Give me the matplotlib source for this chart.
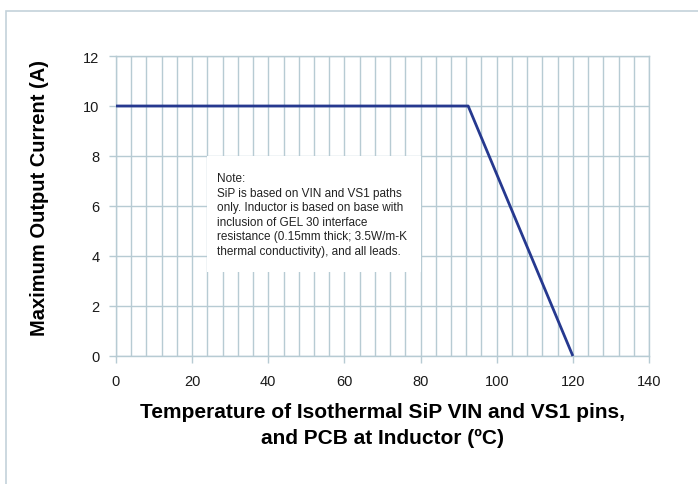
"""Derating curve: maximum output current vs. isothermal temperature."""

import matplotlib

matplotlib.use("Agg")
import matplotlib.pyplot as plt
from matplotlib.patches import Rectangle
from matplotlib.ticker import MultipleLocator

plt.rcParams["font.family"] = ["Liberation Sans", "DejaVu Sans"]

# derating curve
temperature_c = [0, 92.5, 120]
max_current_a = [10, 10, 0]

x_ticks = [0, 20, 40, 60, 80, 100, 120, 140]
y_ticks = [0, 2, 4, 6, 8, 10, 12]

note_text = (
    "Note:\n"
    "SiP is based on VIN and VS1 paths\n"
    "only. Inductor is based on base with\n"
    "inclusion of GEL 30 interface\n"
    "resistance (0.15mm thick; 3.5W/m-K\n"
    "thermal conductivity), and all leads."
)

GRID = "#b7cbd3"
LINE = "#26398f"
W, H = 698, 485

fig = plt.figure(figsize=(W / 100, H / 100), dpi=100)

# outer chart-area border
fig.patches.append(
    Rectangle((6 / W, -0.05), 1.0, 1 - 12 / H + 0.05, transform=fig.transFigure,
              fill=False, edgecolor="#c3d2da", linewidth=1.2)
)

ax = fig.add_axes([116 / W, (H - 357) / H, 533 / W, 300 / H])
ax.set_xlim(0, 140)
ax.set_ylim(0, 12)
ax.set_xticks(x_ticks)
ax.set_yticks(y_ticks)
ax.xaxis.set_minor_locator(MultipleLocator(4))
ax.grid(True, which="both", axis="x", color=GRID, linewidth=1.0)
ax.grid(True, which="major", axis="y", color=GRID, linewidth=1.0)
ax.set_axisbelow(True)
for side in ("top", "right", "left", "bottom"):
    ax.spines[side].set_color(GRID)
    ax.spines[side].set_linewidth(1.0)
ax.tick_params(axis="both", which="major", color=GRID, length=5, width=1.0,
               labelsize=10.5, labelcolor="#1a1a1a")
ax.tick_params(axis="x", which="major", pad=8)
ax.tick_params(axis="y", which="major", pad=7)
ax.tick_params(axis="x", which="minor", length=0)

# note box covering the grid
ax.add_patch(Rectangle((23.9, 3.36), 56.2, 4.64, facecolor="white",
                       edgecolor="none", zorder=2))
ax.text(26.5, 7.36, note_text, fontsize=8.5, color="#222222", va="top",
        ha="left", linespacing=1.28, zorder=3)

ax.plot(temperature_c, max_current_a, color=LINE, linewidth=2.0,
        solid_capstyle="butt", zorder=4, clip_on=False)

ax.set_xlabel("Temperature of Isothermal SiP VIN and VS1 pins,\nand PCB at Inductor (ºC)",
              fontsize=15, fontweight="bold", linespacing=1.45, va="top")
ax.xaxis.set_label_coords(0.5, -0.153)
ax.set_ylabel("Maximum Output Current (A)", fontsize=14.5, fontweight="bold")
ax.yaxis.set_label_coords(-0.125, 0.53)

fig.savefig("out.png", dpi=100)
